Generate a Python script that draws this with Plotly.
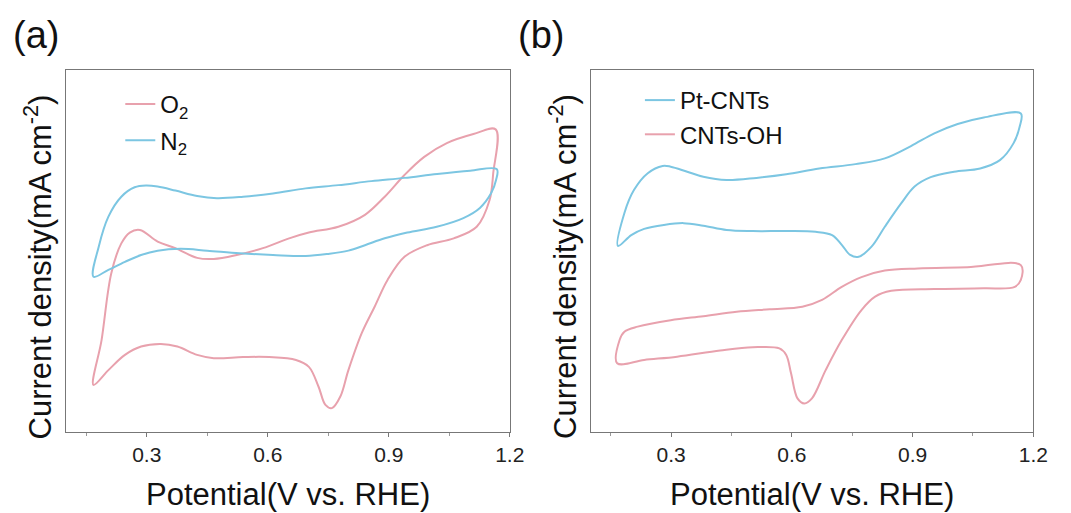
import plotly.graph_objects as go

# ---------------- data (arbitrary current units, potential in V vs RHE) ----------------
# Panel (a): O2 saturated CV
o2_x = [0.168, 0.188, 0.212, 0.237, 0.258, 0.283, 0.327, 0.371, 0.425, 0.466, 0.523, 0.588,
        0.653, 0.702, 0.775, 0.841, 0.890, 0.939, 0.988, 1.044, 1.110, 1.165,
        1.159, 1.150, 1.118, 1.061, 0.995, 0.939, 0.897, 0.865, 0.833, 0.800, 0.780, 0.759,
        0.743, 0.726, 0.702, 0.670, 0.604, 0.539, 0.466, 0.425, 0.376, 0.335, 0.286, 0.246,
        0.205, 0.168]
o2_y = [1.30, 2.54, 4.38, 5.21, 5.51, 5.58, 5.26, 5.08, 4.81, 4.78, 4.89, 5.08,
        5.35, 5.51, 5.67, 6.00, 6.50, 7.10, 7.60, 7.98, 8.23, 8.36,
        7.15, 6.41, 5.67, 5.35, 5.16, 4.84, 4.20, 3.46, 2.73, 1.71, 0.98, 0.66,
        0.75, 1.25, 1.80, 1.99, 2.07, 2.07, 2.04, 2.13, 2.36, 2.43, 2.36, 2.13,
        1.71, 1.30]

# Panel (a): N2 saturated CV
n2_x = [0.168, 0.181, 0.205, 0.237, 0.270, 0.298, 0.327, 0.371, 0.425, 0.474, 0.539, 0.613,
        0.694, 0.775, 0.857, 0.939, 1.020, 1.102, 1.168,
        1.166, 1.154, 1.126, 1.085, 1.019, 0.946, 0.890, 0.841, 0.800, 0.750, 0.694, 0.613,
        0.530, 0.450, 0.384, 0.327, 0.286, 0.246, 0.205, 0.168]
n2_y = [4.29, 5.12, 5.95, 6.50, 6.76, 6.81, 6.78, 6.67, 6.52, 6.46, 6.50, 6.59,
        6.73, 6.82, 6.93, 7.02, 7.13, 7.22, 7.26,
        6.96, 6.60, 6.19, 5.91, 5.67, 5.51, 5.35, 5.16, 5.01, 4.92, 4.86, 4.89,
        4.94, 5.01, 5.06, 5.01, 4.89, 4.70, 4.48, 4.29]

# Panel (b): Pt-CNTs CV
pt_x = [0.168, 0.184, 0.208, 0.242, 0.279, 0.299, 0.340, 0.380, 0.438, 0.512, 0.586, 0.668,
        0.758, 0.831, 0.896, 0.954, 1.012, 1.077, 1.169,
        1.166, 1.151, 1.117, 1.068, 1.003, 0.945, 0.905, 0.872, 0.831, 0.798, 0.766, 0.745,
        0.724, 0.700, 0.659, 0.586, 0.503, 0.438, 0.380, 0.331, 0.282, 0.233, 0.201, 0.168]
pt_y = [5.14, 6.05, 6.69, 7.15, 7.35, 7.33, 7.19, 7.05, 6.96, 7.02, 7.12, 7.28,
        7.40, 7.56, 7.90, 8.25, 8.51, 8.69, 8.80,
        8.43, 7.98, 7.51, 7.28, 7.19, 7.04, 6.78, 6.32, 5.67, 5.12, 4.84, 4.89,
        5.17, 5.44, 5.53, 5.55, 5.55, 5.58, 5.70, 5.77, 5.72, 5.61, 5.44, 5.14]

# Panel (b): CNTs-OH CV
oh_x = [0.166, 0.172, 0.184, 0.217, 0.299, 0.380, 0.463, 0.545, 0.626, 0.675, 0.724, 0.773,
        0.831, 0.913, 1.036, 1.169,
        1.169, 1.154, 1.077, 0.954, 0.847, 0.807, 0.773, 0.724, 0.684, 0.650, 0.631, 0.614,
        0.598, 0.586, 0.569, 0.503, 0.422, 0.315, 0.233, 0.166]
oh_y = [1.90, 2.54, 2.77, 2.91, 3.09, 3.20, 3.32, 3.39, 3.46, 3.65, 4.01, 4.28,
        4.46, 4.52, 4.55, 4.61,
        4.20, 4.01, 3.97, 3.95, 3.90, 3.74, 3.37, 2.54, 1.71, 0.93, 0.79, 0.93,
        1.62, 2.13, 2.31, 2.34, 2.25, 2.08, 1.99, 1.90]

x_ticks = [0.3, 0.6, 0.9, 1.2]
x_tick_labels = ["0.3", "0.6", "0.9", "1.2"]

# ---------------- styling ----------------
PINK = "#E8A1AD"
BLUE = "#7CC6E2"
FONT = "Arial, Liberation Sans, sans-serif"
W, H = 1071, 513

def px_x(p):
    return p / W

def px_y(p):
    return (H - p) / H

line_kw = dict(width=2, shape="spline", smoothing=1.0)

fig = go.Figure()
fig.add_trace(go.Scatter(x=o2_x, y=o2_y, mode="lines", name="O<sub>2</sub>",
                         line=dict(color=PINK, **line_kw),
                         xaxis="x", yaxis="y", legend="legend", legendgroup="a1"))
fig.add_trace(go.Scatter(x=n2_x, y=n2_y, mode="lines", name="N<sub>2</sub>",
                         line=dict(color=BLUE, **line_kw),
                         xaxis="x", yaxis="y", legend="legend", legendgroup="a2"))
fig.add_trace(go.Scatter(x=pt_x, y=pt_y, mode="lines", name="Pt-CNTs",
                         line=dict(color=BLUE, **line_kw),
                         xaxis="x2", yaxis="y2", legend="legend2", legendgroup="b1"))
fig.add_trace(go.Scatter(x=oh_x, y=oh_y, mode="lines", name="CNTs-OH",
                         line=dict(color=PINK, **line_kw),
                         xaxis="x2", yaxis="y2", legend="legend2", legendgroup="b2"))

y_dom = [px_y(432), px_y(70)]
xa_dom = [px_x(67), px_x(517)]
xb_dom = [px_x(599), px_x(1048)]

xaxis_common = dict(range=[0.1, 1.2], tickvals=x_ticks, ticktext=x_tick_labels,
                    ticks="outside", ticklen=4, tickwidth=1, tickcolor="#777",
                    showline=True, linecolor="#777", linewidth=1, mirror=True,
                    showgrid=False, zeroline=False,
                    tickfont=dict(family=FONT, size=21, color="#222"),
                    minor=dict(tickvals=[0.15, 0.45, 0.75, 1.05], ticks="outside",
                               ticklen=3, tickcolor="#999", showgrid=False))
yaxis_common = dict(range=[0, 10], showticklabels=False, ticks="",
                    showline=True, linecolor="#777", linewidth=1, mirror=True,
                    showgrid=False, zeroline=False)

fig.update_layout(
    width=W, height=H,
    margin=dict(l=0, r=0, t=0, b=0),
    paper_bgcolor="white", plot_bgcolor="white",
    xaxis=dict(domain=xa_dom, anchor="y", **xaxis_common),
    yaxis=dict(domain=y_dom, anchor="x", **yaxis_common),
    xaxis2=dict(domain=xb_dom, anchor="y2", **xaxis_common),
    yaxis2=dict(domain=y_dom, anchor="x2", **yaxis_common),
    legend=dict(x=px_x(122), y=px_y(82), xanchor="left", yanchor="top",
                bgcolor="rgba(0,0,0,0)", font=dict(family=FONT, size=24, color="#111"),
                tracegroupgap=2, traceorder="grouped"),
    legend2=dict(x=px_x(649), y=px_y(78), xanchor="left", yanchor="top",
                 bgcolor="rgba(0,0,0,0)", font=dict(family=FONT, size=24, color="#111"),
                 tracegroupgap=0, traceorder="grouped"),
    showlegend=True,
)

ann = []
xtitle = "Potential(V vs. RHE)"
ytitle = "Current density(mA cm<sup>-2</sup>)"
for dom in (xa_dom, xb_dom):
    ann.append(dict(text=xtitle, x=(dom[0] + dom[1]) / 2, y=px_y(494), xref="paper", yref="paper",
                    xanchor="center", yanchor="middle", showarrow=False,
                    font=dict(family=FONT, size=31, color="#111")))
for xc in (39, 571):
    ann.append(dict(text=ytitle, x=px_x(xc), y=px_y(267), xref="paper", yref="paper",
                    xanchor="center", yanchor="middle", showarrow=False, textangle=-90,
                    font=dict(family=FONT, size=31, color="#111")))
for lab, xc in (("(a)", 37), ("(b)", 549)):
    ann.append(dict(text=lab, x=px_x(xc), y=px_y(35), xref="paper", yref="paper",
                    xanchor="center", yanchor="middle", showarrow=False,
                    font=dict(family=FONT, size=38, color="#111")))
fig.update_layout(annotations=ann)

fig.write_html("out.html")
